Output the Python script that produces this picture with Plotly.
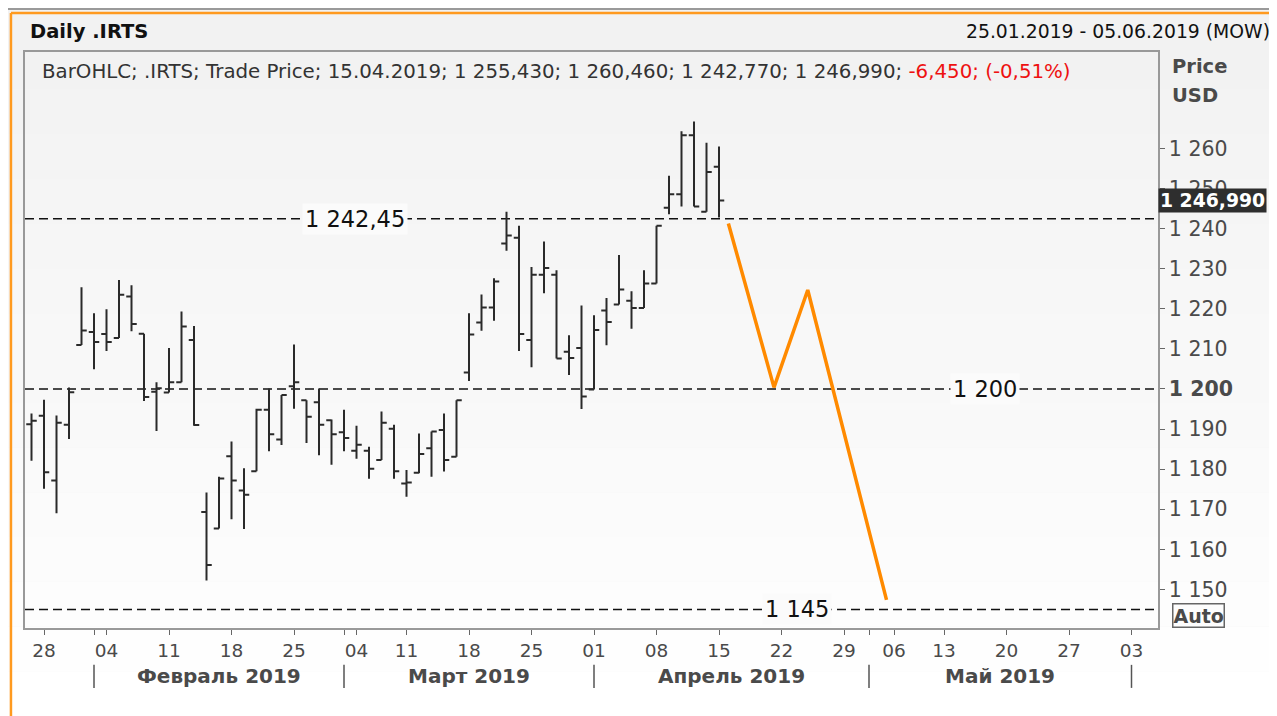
import pandas as pd
import plotly.graph_objects as go

# trading calendar shown on the axis (weekends and MOEX holidays skipped)
holidays = ["2019-03-08", "2019-05-01", "2019-05-09"]
calendar = pd.bdate_range("2019-01-25", "2019-06-05")
calendar = calendar[~calendar.isin(pd.to_datetime(holidays))]

# daily .IRTS bars, 25.01.2019 - 15.04.2019
opens = [1191.2, 1193.3, 1177.2, 1191.1, 1211.0, 1214.2, 1213.7, 1212.7, 1223.1, 1213.8,
         1199.3, 1199.1, 1201.7, 1212.2, 1169.3, 1165.2, 1183.2, 1174.7, 1179.5, 1194.8,
         1187.4, 1200.7, 1197.2, 1196.7, 1192.2, 1189.2, 1184.6, 1184.6, 1182.3, 1190.1,
         1176.4, 1179.1, 1185.2, 1189.8, 1183.1, 1204.1, 1216.6, 1220.3, 1236.3, 1237.7,
         1212.2, 1228.5, 1228.5, 1209.3, 1210.2, 1199.9, 1219.6, 1221.1, 1222.0, 1220.2,
         1226.3, 1245.2, 1248.6, 1263.3, 1244.2, 1255.43]
highs = [1193.9, 1197.3, 1193.4, 1200.4, 1225.4, 1218.9, 1219.9, 1227.2, 1225.9, 1213.8,
         1201.7, 1210.2, 1219.3, 1215.7, 1174.2, 1178.1, 1186.9, 1180.2, 1195.1, 1200.1,
         1198.5, 1211.1, 1197.2, 1200.1, 1192.4, 1194.8, 1190.8, 1185.6, 1194.4, 1191.1,
         1179.8, 1188.9, 1189.4, 1193.9, 1197.2, 1218.9, 1223.6, 1227.6, 1244.2, 1240.7,
         1230.4, 1236.8, 1229.6, 1213.4, 1220.8, 1218.4, 1222.7, 1233.4, 1224.4, 1229.6,
         1240.7, 1253.2, 1264.3, 1266.7, 1261.4, 1260.46]
lows = [1182.1, 1175.1, 1169.0, 1187.5, 1211.0, 1204.9, 1209.5, 1212.7, 1214.4, 1197.0,
        1189.5, 1199.1, 1201.7, 1190.8, 1152.2, 1165.2, 1167.5, 1165.1, 1179.5, 1184.5,
        1186.0, 1195.1, 1186.5, 1183.5, 1181.1, 1184.5, 1182.6, 1177.6, 1182.3, 1177.6,
        1173.1, 1179.0, 1178.1, 1179.4, 1183.1, 1202.0, 1214.5, 1217.0, 1234.5, 1209.5,
        1205.4, 1223.9, 1207.6, 1203.5, 1195.0, 1199.9, 1210.9, 1221.1, 1215.0, 1220.2,
        1226.3, 1243.6, 1245.5, 1245.5, 1244.2, 1242.77]
closes = [1192.1, 1179.2, 1191.6, 1199.2, 1214.6, 1211.7, 1211.7, 1223.5, 1216.2, 1198.0,
          1200.2, 1201.7, 1215.6, 1191.0, 1156.1, 1177.7, 1177.2, 1173.6, 1194.8, 1188.7,
          1198.5, 1201.7, 1193.1, 1191.1, 1188.7, 1187.8, 1186.1, 1180.1, 1191.6, 1179.5,
          1176.7, 1183.8, 1189.4, 1182.3, 1197.2, 1213.6, 1220.3, 1226.8, 1238.3, 1213.7,
          1228.5, 1230.2, 1207.6, 1207.7, 1198.1, 1214.7, 1216.7, 1224.8, 1220.2, 1226.3,
          1240.7, 1248.6, 1263.3, 1245.5, 1254.1, 1246.99]

# orange forecast path (trading-day position, price)
proj_pos = [55.75, 59.4, 62.1, 68.4]
proj_val = [1241.3, 1200.4, 1224.7, 1147.4]

# horizontal levels
levels = [1242.45, 1200, 1145]
level_labels = ["1 242,45", "1 200", "1 145"]
level_label_x = [0.2912, 0.8473, 0.6814]

y_ticks = list(range(1150, 1261, 10))
month_names = {2: "Февраль 2019", 3: "Март 2019", 4: "Апрель 2019", 5: "Май 2019"}

last_price = 1246.99
legend_main = "BarOHLC; .IRTS; Trade Price; 15.04.2019; 1 255,430; 1 260,460; 1 242,770; 1 246,990; "
legend_change = "-6,450; (-0,51%)"

FONT = "DejaVu Sans"
GRAY = "#4a4a4a"

x_bars = list(range(len(opens)))

# x ticks: mondays get the day number, other month starts get a bare tick
tickvals, ticktext, month_starts = [], [], []
for i, d in enumerate(calendar):
    first = i > 0 and d.month != calendar[i - 1].month
    if first:
        month_starts.append(i)
    if d.weekday() == 0:
        tickvals.append(i)
        ticktext.append(d.strftime("%d"))
    elif first:
        tickvals.append(i)
        ticktext.append("")

def fmt(v):
    return f"{v:,}".replace(",", " ")

y_text = [f"<b>{fmt(v)}</b>" if v == 1200 else fmt(v) for v in y_ticks]

fig = go.Figure()
fig.add_trace(go.Ohlc(
    x=x_bars, open=opens, high=highs, low=lows, close=closes,
    increasing_line_color="#2a2a2a", decreasing_line_color="#2a2a2a",
    line_width=2, tickwidth=0.42, hoverinfo="skip", showlegend=False,
))
fig.add_trace(go.Scatter(
    x=proj_pos, y=proj_val, mode="lines",
    line=dict(color="#ff8a00", width=3.5), hoverinfo="skip", showlegend=False,
))

shapes = []
# background gradient (white at top to light gray at bottom)
n = 16
for k in range(n):
    c = int(255 - (255 - 242) * k / (n - 1))
    top = 716 - 716 * k / n
    bot = 716 - 716 * (k + 1) / n
    shapes.append(dict(type="rect", xref="paper", yref="paper", layer="below",
                       x0=-0.03, x1=1.11, y0=(628 - top) / 576, y1=(628 - bot) / 576,
                       fillcolor=f"rgb({c},{c},{c})", line_width=0))
# window frame lines
shapes.append(dict(type="line", xref="paper", yref="paper", x0=-0.03, x1=1.11,
                   y0=(628 - 9) / 576, y1=(628 - 9) / 576, line=dict(color="#9a9a9a", width=2)))
shapes.append(dict(type="line", xref="paper", yref="paper", x0=-0.0124, x1=1.11,
                   y0=(628 - 13) / 576, y1=(628 - 13) / 576, line=dict(color="#ff9a1f", width=2.5)))
shapes.append(dict(type="line", xref="paper", yref="paper", x0=-0.0159, x1=-0.0159,
                   y0=-0.16, y1=(628 - 9) / 576, line=dict(color="#9a9a9a", width=2)))
shapes.append(dict(type="line", xref="paper", yref="paper", x0=-0.0124, x1=-0.0124,
                   y0=-0.16, y1=(628 - 13) / 576, line=dict(color="#ff9a1f", width=2.5)))
for lv in levels:
    shapes.append(dict(type="line", xref="paper", yref="y", layer="below",
                       x0=0, x1=1, y0=lv, y1=lv,
                       line=dict(color="#111111", width=1.6, dash="9px,5px")))
for m in month_starts:
    shapes.append(dict(type="line", xref="x", yref="paper", x0=m, x1=m,
                       y0=-0.064, y1=-0.104, line=dict(color="#555555", width=1.5)))

annotations = [
    dict(text="<b>Daily .IRTS</b>", xref="paper", yref="paper", x=0.0026, y=(628 - 32) / 576,
         xanchor="left", yanchor="middle", showarrow=False, font=dict(family=FONT, size=19.5, color="#111")),
    dict(text="25.01.2019 - 05.06.2019 (MOW)", xref="paper", yref="paper", x=1.1006, y=(628 - 32) / 576,
         xanchor="right", yanchor="middle", showarrow=False, font=dict(family=FONT, size=18.8, color="#111")),
    dict(text=f"{legend_main}<span style='color:#ee1111'>{legend_change}</span>",
         xref="paper", yref="paper", x=0.0132, y=(628 - 71) / 576, xanchor="left", yanchor="middle",
         showarrow=False, font=dict(family=FONT, size=19.8, color="#333")),
    dict(text="<b>Price</b>", xref="paper", yref="paper", x=1.0106, y=(628 - 66) / 576,
         xanchor="left", yanchor="middle", showarrow=False, font=dict(family=FONT, size=19.5, color=GRAY)),
    dict(text="<b>USD</b>", xref="paper", yref="paper", x=1.0106, y=(628 - 95) / 576,
         xanchor="left", yanchor="middle", showarrow=False, font=dict(family=FONT, size=19.5, color=GRAY)),
    dict(text="<b>Auto</b>", xref="paper", yref="paper", x=1.0124, y=(628 - 615) / 576,
         xanchor="left", yanchor="middle", showarrow=False, bordercolor="#666", borderwidth=1.5,
         borderpad=0, font=dict(family=FONT, size=19, color=GRAY)),
    dict(text=f"<b>{fmt(int(last_price))},{int(round(last_price % 1 * 1000)):03d}</b>",
         xref="paper", yref="y", x=1.0, y=last_price, xanchor="left", yanchor="middle",
         showarrow=False, bgcolor="#2e2e2e", borderpad=1,
         font=dict(family=FONT, size=18.8, color="#ffffff")),
]
for lv, lab, lx in zip(levels, level_labels, level_label_x):
    annotations.append(dict(text=lab, xref="paper", yref="y", x=lx, y=lv, xanchor="center",
                            yanchor="middle", showarrow=False, bgcolor="#fbfbfb", borderpad=2,
                            font=dict(family=FONT, size=22.5, color="#111")))
for i in range(len(month_starts) - 1):
    d = calendar[month_starts[i]]
    annotations.append(dict(text=f"<b>{month_names[d.month]}</b>", xref="x", yref="paper",
                            x=(month_starts[i] + month_starts[i + 1]) / 2, y=(628 - 676) / 576,
                            xanchor="center", yanchor="middle", showarrow=False,
                            font=dict(family=FONT, size=20, color=GRAY)))

# the page body has an 8px margin, so the figure is 8px smaller than the window
fig.update_layout(
    width=1269, height=708,
    margin=dict(l=17, r=119, t=44, b=88),
    paper_bgcolor="#f4f4f4", plot_bgcolor="rgba(0,0,0,0)",
    font=dict(family=FONT, color=GRAY),
    showlegend=False, hovermode=False,
    shapes=shapes, annotations=annotations,
    xaxis=dict(
        range=[-0.52, 90.12], rangeslider=dict(visible=False),
        tickmode="array", tickvals=tickvals, ticktext=ticktext,
        ticks="outside", ticklen=5, tickcolor="#666", tickwidth=1.2,
        tickfont=dict(family=FONT, size=18.5, color=GRAY),
        showgrid=False, zeroline=False,
        showline=True, linecolor="#999999", linewidth=1.5, mirror=True,
    ),
    yaxis=dict(
        side="right", range=[1140.38, 1284.06],
        tickmode="array", tickvals=y_ticks, ticktext=y_text,
        ticks="outside", ticklen=5, tickcolor="#666", tickwidth=1.2,
        tickfont=dict(family=FONT, size=20.5, color=GRAY),
        showgrid=False, zeroline=False,
        showline=True, linecolor="#999999", linewidth=1.5, mirror=True,
    ),
)

fig.write_html("out.html")
